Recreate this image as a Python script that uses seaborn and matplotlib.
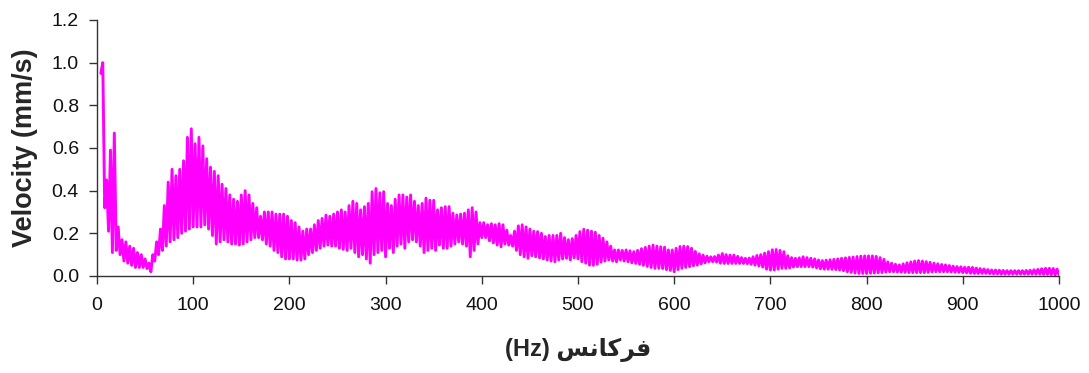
import numpy as np
import pandas as pd
import matplotlib
matplotlib.use("Agg")
import matplotlib.pyplot as plt
import seaborn as sns

# ---- data (velocity in mm/s) ----
# troughs at 4, 8, ..., 1000 Hz ; peaks at 6, 10, ..., 998 Hz
troughs_0_200 = [0.95, 0.32, 0.21, 0.11, 0.12, 0.10, 0.07, 0.06, 0.05, 0.04,
                 0.04, 0.04, 0.035, 0.02, 0.07, 0.10, 0.12, 0.14, 0.16, 0.17,
                 0.18, 0.20, 0.21, 0.22, 0.23, 0.23, 0.23, 0.24, 0.22, 0.19,
                 0.15, 0.16, 0.17, 0.16, 0.15, 0.15, 0.145, 0.15, 0.16, 0.17,
                 0.18, 0.18, 0.17, 0.15, 0.14, 0.12, 0.11, 0.09, 0.08, 0.08]
peaks_0_200 = [1.00, 0.45, 0.59, 0.67, 0.23, 0.17, 0.16, 0.14, 0.13, 0.11,
               0.10, 0.08, 0.06, 0.10, 0.16, 0.22, 0.33, 0.44, 0.50, 0.47,
               0.50, 0.54, 0.65, 0.69, 0.62, 0.65, 0.61, 0.55, 0.51, 0.49,
               0.47, 0.43, 0.41, 0.38, 0.36, 0.35, 0.38, 0.40, 0.38, 0.34,
               0.32, 0.28, 0.30, 0.30, 0.30, 0.29, 0.29, 0.29, 0.28, 0.26]

troughs_200_400 = [0.08, 0.075, 0.075, 0.08, 0.10, 0.11, 0.12, 0.13, 0.14, 0.145,
                   0.14, 0.14, 0.13, 0.125, 0.12, 0.13, 0.11, 0.09, 0.10, 0.08,
                   0.06, 0.10, 0.11, 0.12, 0.09, 0.13, 0.11, 0.14, 0.15, 0.13,
                   0.16, 0.17, 0.16, 0.14, 0.11, 0.12, 0.13, 0.12, 0.145, 0.13,
                   0.13, 0.14, 0.15, 0.16, 0.15, 0.14, 0.09, 0.12, 0.15, 0.18]
peaks_200_400 = [0.25, 0.23, 0.21, 0.22, 0.22, 0.24, 0.26, 0.27, 0.285, 0.28,
                 0.29, 0.30, 0.31, 0.30, 0.33, 0.35, 0.34, 0.31, 0.325, 0.34,
                 0.395, 0.41, 0.39, 0.395, 0.34, 0.33, 0.36, 0.38, 0.38, 0.37,
                 0.38, 0.35, 0.33, 0.34, 0.365, 0.355, 0.355, 0.31, 0.32, 0.325,
                 0.325, 0.294, 0.286, 0.29, 0.294, 0.31, 0.32, 0.30, 0.25, 0.25]

troughs_400_600 = [0.18, 0.165, 0.155, 0.145, 0.137, 0.15, 0.145, 0.14, 0.12, 0.10,
                   0.09, 0.083, 0.095, 0.09, 0.085, 0.08, 0.075, 0.07, 0.067, 0.075,
                   0.08, 0.083, 0.075, 0.085, 0.08, 0.067, 0.06, 0.051, 0.05, 0.055,
                   0.065, 0.07, 0.075, 0.07, 0.067, 0.075, 0.07, 0.067, 0.062, 0.059,
                   0.055, 0.05, 0.045, 0.04, 0.036, 0.036, 0.035, 0.03, 0.026, 0.02]
peaks_400_600 = [0.24, 0.245, 0.24, 0.245, 0.24, 0.215, 0.19, 0.21, 0.235, 0.24,
                 0.23, 0.22, 0.21, 0.208, 0.20, 0.185, 0.19, 0.19, 0.19, 0.20,
                 0.18, 0.17, 0.175, 0.19, 0.208, 0.219, 0.215, 0.21, 0.205, 0.19,
                 0.177, 0.16, 0.14, 0.122, 0.122, 0.12, 0.122, 0.118, 0.114, 0.12,
                 0.128, 0.134, 0.14, 0.145, 0.14, 0.137, 0.135, 0.122, 0.122, 0.13]

troughs_600_800 = [0.03, 0.036, 0.04, 0.044, 0.048, 0.051, 0.057, 0.062, 0.067, 0.067,
                   0.065, 0.06, 0.059, 0.059, 0.059, 0.059, 0.059, 0.059, 0.058, 0.055,
                   0.051, 0.047, 0.042, 0.032, 0.028, 0.028, 0.032, 0.036, 0.036, 0.038,
                   0.042, 0.044, 0.044, 0.044, 0.044, 0.042, 0.038, 0.034, 0.032, 0.032,
                   0.031, 0.03, 0.028, 0.025, 0.02, 0.017, 0.014, 0.012, 0.012, 0.012]
peaks_600_800 = [0.138, 0.14, 0.138, 0.13, 0.115, 0.104, 0.098, 0.093, 0.09, 0.091,
                 0.098, 0.105, 0.10, 0.098, 0.098, 0.092, 0.086, 0.083, 0.084, 0.09,
                 0.096, 0.10, 0.107, 0.114, 0.123, 0.124, 0.12, 0.114, 0.095, 0.086,
                 0.083, 0.085, 0.09, 0.086, 0.083, 0.08, 0.075, 0.072, 0.074, 0.076,
                 0.078, 0.08, 0.083, 0.085, 0.087, 0.089, 0.091, 0.093, 0.094, 0.094]

troughs_800_1000 = [0.013, 0.014, 0.015, 0.016, 0.018, 0.02, 0.02, 0.019, 0.018, 0.017,
                    0.016, 0.016, 0.016, 0.016, 0.016, 0.017, 0.019, 0.02, 0.02, 0.02,
                    0.02, 0.019, 0.018, 0.017, 0.016, 0.015, 0.013, 0.012, 0.012, 0.012,
                    0.012, 0.011, 0.01, 0.01, 0.009, 0.009, 0.009, 0.009, 0.009, 0.009,
                    0.009, 0.009, 0.009, 0.009, 0.009, 0.008, 0.008, 0.007, 0.006, 0.005]
peaks_800_1000 = [0.094, 0.092, 0.086, 0.078, 0.066, 0.06, 0.055, 0.052, 0.057, 0.062,
                  0.066, 0.07, 0.072, 0.07, 0.067, 0.064, 0.06, 0.057, 0.054, 0.052,
                  0.049, 0.046, 0.044, 0.043, 0.041, 0.041, 0.04, 0.037, 0.035, 0.033,
                  0.03, 0.028, 0.028, 0.027, 0.026, 0.025, 0.025, 0.025, 0.025, 0.025,
                  0.026, 0.027, 0.029, 0.031, 0.034, 0.036, 0.036, 0.035, 0.032]

x_ticks = [0, 100, 200, 300, 400, 500, 600, 700, 800, 900, 1000]
y_ticks = [0.0, 0.2, 0.4, 0.6, 0.8, 1.0, 1.2]
y_label = "Velocity (mm/s)"
# "فرکانس (Hz)" written in visual order with Arabic presentation forms
x_label = "(Hz) \uFEB2\uFEE7\uFE8E\uFB90\uFEAE\uFED3"

# ---- assemble the series ----
troughs = troughs_0_200 + troughs_200_400 + troughs_400_600 + troughs_600_800 + troughs_800_1000
peaks = peaks_0_200 + peaks_200_400 + peaks_400_600 + peaks_600_800 + peaks_800_1000
t_freq = 4 + 4 * np.arange(len(troughs))
p_freq = 6 + 4 * np.arange(len(peaks))
df = pd.DataFrame({"freq": np.concatenate([t_freq, p_freq]),
                   "vel": np.concatenate([troughs, peaks])}).sort_values("freq")

sns.set_theme(style="ticks")
plt.rcParams["font.family"] = ["Liberation Sans", "DejaVu Sans"]

fig = plt.figure(figsize=(10.89, 3.73), dpi=100)
ax = fig.add_axes([97 / 1089, 1 - 276 / 373, (1059 - 97) / 1089, (276 - 20) / 373])

sns.lineplot(data=df, x="freq", y="vel", color="#FF00FF", linewidth=2.1,
             estimator=None, sort=True, ax=ax)

ax.set_xlim(0, 1000)
ax.set_ylim(0, 1.2)
ax.set_xticks(x_ticks)
ax.set_yticks(y_ticks)
ax.set_yticklabels([f"{v:.1f}" for v in y_ticks])
ax.tick_params(axis="both", direction="out", length=6, width=1, color="#333333",
               labelsize=14, labelcolor="#111111")
ax.tick_params(axis="x", pad=9)
ax.tick_params(axis="y", pad=7)
for s in ["top", "right"]:
    ax.spines[s].set_visible(False)
for s in ["left", "bottom"]:
    ax.spines[s].set_color("#333333")
    ax.spines[s].set_linewidth(1.0)

ax.set_ylabel(y_label, fontsize=19.5, fontweight="bold", labelpad=10,
              family=["Liberation Sans", "DejaVu Sans"])
ax.set_xlabel(x_label, fontsize=17, fontweight="bold", labelpad=17,
              family=["Liberation Sans", "DejaVu Sans"])

fig.savefig("out.png", dpi=100)
